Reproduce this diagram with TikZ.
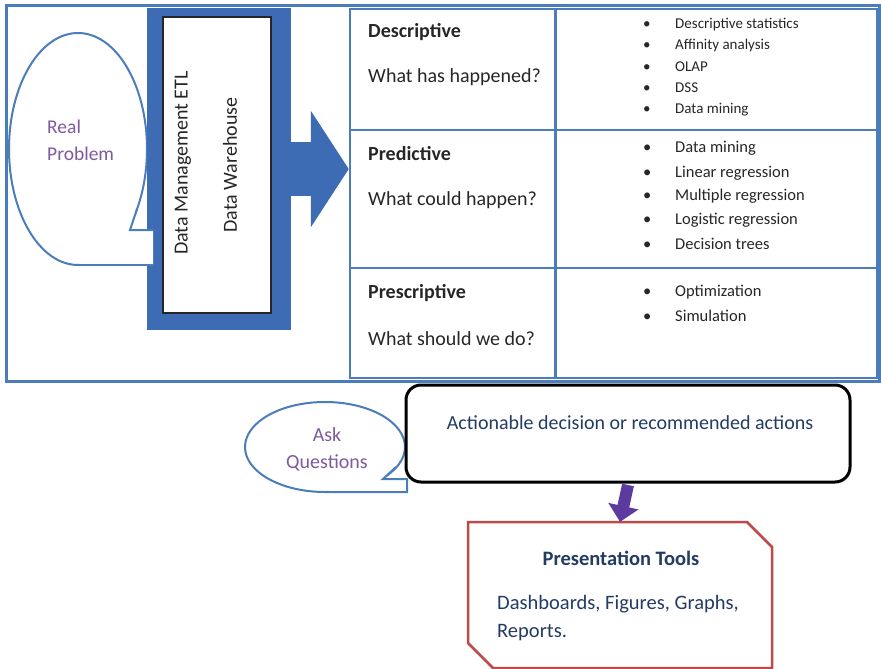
\documentclass[tikz,border=0pt]{standalone}
\usepackage{fontspec}
\setmainfont{Carlito}
\usetikzlibrary{arrows.meta,shapes.geometric}

\definecolor{lineblue}{HTML}{4A7DBA}
\definecolor{fillblue}{HTML}{3D6CB5}
\definecolor{bubbletext}{HTML}{7E5A9E}
\definecolor{navytext}{HTML}{243B63}
\definecolor{boxred}{HTML}{BE4B48}
\definecolor{arrowviolet}{HTML}{5B3C9E}
\definecolor{bodytext}{HTML}{262626}

\newcommand{\fsz}[2]{\fontsize{#1}{#2}\selectfont}
\newcommand{\itm}[1]{\makebox[32pt][l]{\textbullet}#1}

\begin{document}
\begin{tikzpicture}[x=1pt,y=-1pt]
    \tikzstyle{every node}+=[inner sep=0pt, text=bodytext]
    \tikzstyle{head}=[anchor=west, font=\fsz{20}{24}\bfseries]
    \tikzstyle{quest}=[anchor=west, font=\fsz{20}{24}]
    \tikzstyle{small item}=[anchor=west, font=\fsz{15}{18}]
    \tikzstyle{item}=[anchor=west, font=\fsz{16.5}{20}]
    \tikzstyle{bubble}=[ellipse, draw=lineblue, line width=2pt, fill=white]
    \useasboundingbox (0,0) rectangle (881,669);

    % frame and analytics grid
    \draw [lineblue, line width=3pt] (6,6) rectangle (879,381);
    \node [draw=lineblue, line width=2.5pt, minimum width=527pt, minimum height=369pt] (grid) at (613.5,193.5) {};
    \draw [lineblue, line width=2.5pt] (555.5,9) -- (555.5,378);
    \draw [lineblue, line width=2.5pt] (350,130) -- (877,130);
    \draw [lineblue, line width=2.5pt] (350,268) -- (877,268);

    % real problem bubble behind the data box
    \node [bubble, minimum width=138pt, minimum height=232pt] (real) at (78,149) {};
    \node [fill=fillblue, minimum width=144pt, minimum height=322pt] (dm) at (219,169) {};
    \fill [white] (137,209) -- (130,230) -- (153,230) -- (153,265) -- (78,265) -- cycle;
    \draw [lineblue, line width=2pt] (137,209) -- (130,230) -- (153,230);
    \draw [lineblue, line width=2pt] (78,265) -- (153,265);
    \node [draw=black!85, line width=1.2pt, fill=white, minimum width=108pt, minimum height=296pt] (wh) at (217,165) {};
    \node [rotate=90, font=\fsz{20}{24}] (etl) at (183,163) {Data Management ETL};
    \node [rotate=90, font=\fsz{20}{24}] (dwh) at (230,165) {Data Warehouse};
    \node [anchor=west, align=left, text=bubbletext, font=\fsz{19.5}{27}] (realtxt) at (47,140) {Real\\Problem};
    \draw [fillblue, line width=54pt, -{Triangle[width=115pt, length=38pt]}] (dm.east) -- (dm.east -| grid.west);

    % descriptive
    \node [head] (desc) at (368,32) {Descriptive};
    \node [quest] (descq) at (368,77) {What has happened?};
    \node [small item] (d1) at (643,25) {\itm{Descriptive statistics}};
    \node [small item] (d2) at (643,46) {\itm{Affinity analysis}};
    \node [small item] (d3) at (643,67) {\itm{OLAP}};
    \node [small item] (d4) at (643,88) {\itm{DSS}};
    \node [small item] (d5) at (643,110) {\itm{Data mining}};

    % predictive
    \node [head] (pred) at (368,154) {Predictive};
    \node [quest] (predq) at (368,200) {What could happen?};
    \node [item] (p1) at (643,148) {\itm{Data mining}};
    \node [item] (p2) at (643,173) {\itm{Linear regression}};
    \node [item] (p3) at (643,196) {\itm{Multiple regression}};
    \node [item] (p4) at (643,220) {\itm{Logistic regression}};
    \node [item] (p5) at (643,244) {\itm{Decision trees}};

    % prescriptive
    \node [head] (presc) at (368,293) {Prescriptive};
    \node [quest] (prescq) at (368,339) {What should we do?};
    \node [item] (s1) at (643,292) {\itm{Optimization}};
    \node [item] (s2) at (643,316) {\itm{Simulation}};

    % ask questions and the action box
    \node [bubble, minimum width=160pt, minimum height=90pt] (ask) at (325,447) {};
    \fill [white] (396,467) -- (383,479) -- (407,479) -- (407,492) -- (325,492) -- cycle;
    \draw [lineblue, line width=2pt] (396,467) -- (383,479) -- (407,479) -- (407,492) -- (325,492);
    \node [align=center, text=bubbletext, font=\fsz{20}{27}] (asktxt) at (327,449) {Ask\\Questions};
    \node [draw=black, line width=3pt, rounded corners=15pt, fill=white, minimum width=444pt, minimum height=97pt] (act) at (628,433.5) {};
    \node [text=navytext, font=\fsz{20}{24}] (acttxt) at (630,423) {Actionable decision or recommended actions};

    % presentation tools
    \node [minimum width=304pt, minimum height=146pt] (tools) at (620,595) {};
    \draw [boxred, line width=2.5pt, fill=white] (468,522) -- (747,522) -- (772,547) -- (772,668) -- (493,668) -- (468,643) -- cycle;
    \node [text=navytext, font=\fsz{20.5}{24}\bfseries] (ttl) at (621,558) {Presentation Tools};
    \node [anchor=west, align=left, text=navytext, font=\fsz{20.5}{28}] (tlist) at (497,618) {Dashboards, Figures, Graphs,\\Reports.};
    \draw [arrowviolet, line width=12pt, -{Triangle[width=30pt, length=16pt]}] ([yshift=-1.5pt]act.south) -- (tools.north);
\end{tikzpicture}
\end{document}
